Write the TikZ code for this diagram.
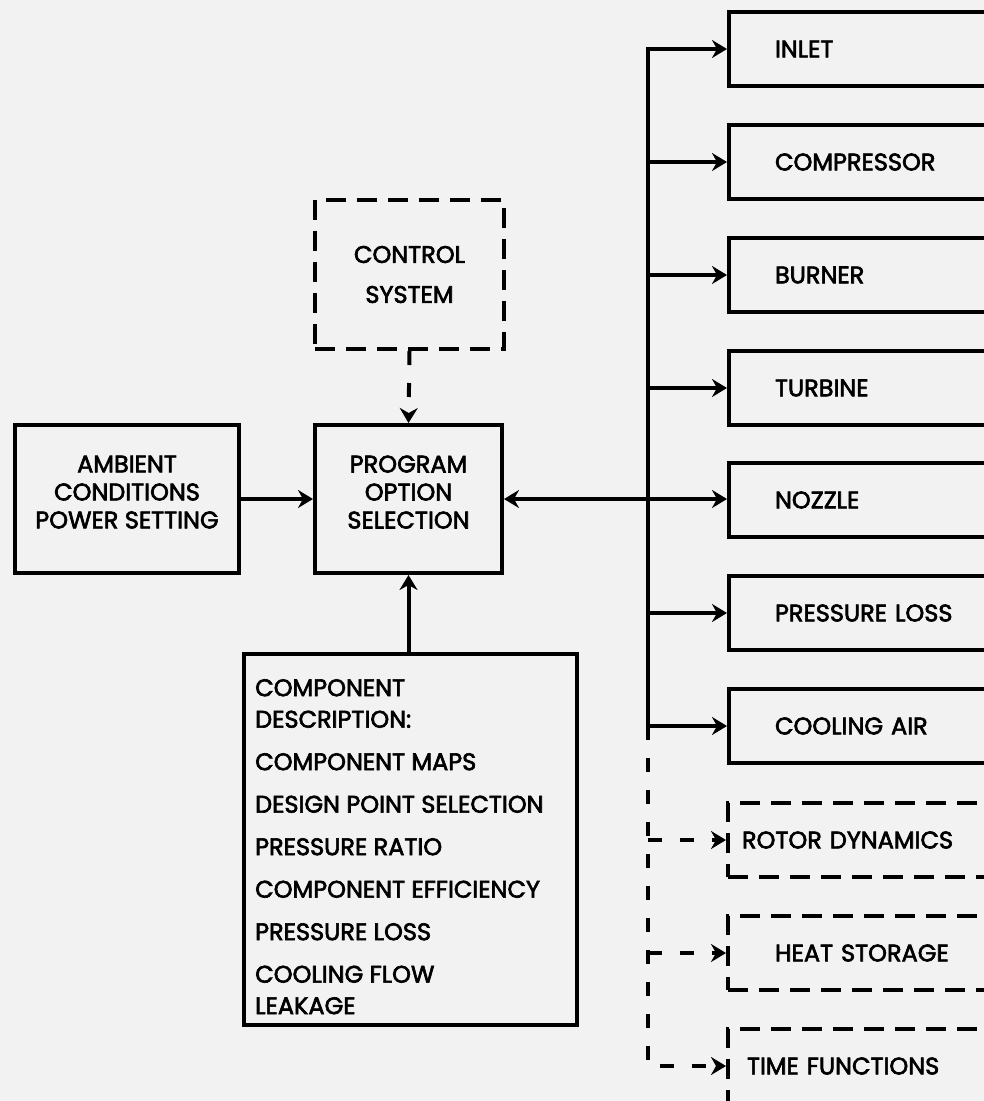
\documentclass[tikz,border=0pt]{standalone}
\usepackage{fontspec}
\setmainfont{Poppins}[FakeBold=2.6]
\usetikzlibrary{arrows.meta}
\begin{document}
\begin{tikzpicture}[x=1pt,y=-1pt,
  lw/.style={line width=4pt},
  tip/.tip={Stealth[length=15pt,width=18pt,inset=5pt]},
  blk/.style={draw, lw, rectangle, inner sep=0pt, font=\fontsize{24}{28}\selectfont},
  dblk/.style={blk, dash pattern=on 20pt off 11pt},
  rbox/.style={blk, anchor=north west, minimum height=74pt, align=left, inner xsep=46pt, text width=228pt},
  drbox/.style={rbox, dash pattern=on 20pt off 11pt},
  arr/.style={lw, -tip},
  darr/.style={arr, dash pattern=on 14pt off 18pt},
  barr/.style={lw, tip-tip}
]
\useasboundingbox (0,0) rectangle (984,1101);
\clip (0,0) rectangle (984,1101);
\fill[black!5] (0,0) rectangle (984,1101);

% right column
\node[rbox] (inlet) at (727,10) {INLET};
\node[rbox] (comp) at (727,123) {COMPRESSOR};
\node[rbox] (burner) at (727,236) {BURNER};
\node[rbox] (turb) at (727,349) {TURBINE};
\node[rbox] (nozzle) at (727,461) {NOZZLE};
\node[rbox] (ploss) at (727,574) {PRESSURE LOSS};
\node[rbox] (cool) at (727,687) {COOLING AIR};
\node[drbox, inner xsep=14pt, text width=292pt] (rotor) at (726,801) {ROTOR DYNAMICS};
\node[drbox, inner xsep=47pt, text width=226pt] (heat) at (726,914) {HEAT STORAGE};
\node[drbox, inner xsep=19pt, text width=282pt] (timef) at (726,1027) {TIME FUNCTIONS};

% left column
\node[dblk, anchor=north west, minimum width=189pt, minimum height=149pt, align=center,
      font=\fontsize{24}{40}\selectfont] (ctrl) at (313,198) {CONTROL\\SYSTEM};
\node[blk, anchor=north west, minimum width=187pt, minimum height=148pt, align=center] (prog) at (313,423)
  {PROGRAM\\OPTION\\SELECTION\rule[-14pt]{0pt}{0pt}};
\node[blk, anchor=north west, minimum width=224pt, minimum height=148pt, align=center] (amb) at (13,423)
  {AMBIENT\\CONDITIONS\\POWER SETTING\rule[-14pt]{0pt}{0pt}};
\node[blk, anchor=north west, minimum width=333pt, minimum height=371pt] (desc) at (242,652) {};
\node[anchor=north west, align=left, inner sep=0pt, font=\fontsize{24}{31.5}\selectfont] (desctxt) at (255,679)
  {COMPONENT\\DESCRIPTION:\\[11pt]COMPONENT MAPS\\[11pt]DESIGN POINT SELECTION\\[11pt]PRESSURE RATIO\\[11pt]COMPONENT EFFICIENCY\\[11pt]PRESSURE LOSS\\[11pt]COOLING FLOW\\LEAKAGE};

\coordinate (bus) at (648,0);

% connectors
\draw[arr] (amb.east) -- (prog.west);
\draw[darr] (ctrl.south) -- (prog.north);
\draw[arr] (desc.north -| prog.south) -- (prog.south);
\draw[barr] (prog.east) -- (prog.east -| nozzle.west);

\draw[arr] (bus |- cool.west) -- (bus |- inlet.west) -- (inlet.west);
\draw[arr] (bus |- comp.west) -- (comp.west);
\draw[arr] (bus |- burner.west) -- (burner.west);
\draw[arr] (bus |- turb.west) -- (turb.west);
\draw[arr] (bus |- ploss.west) -- (ploss.west);
\draw[arr] (bus |- cool.west) -- (cool.west);
\draw[darr] (bus |- cool.west) -- (bus |- timef.west) -- (timef.west);
\draw[darr] (bus |- rotor.west) -- (rotor.west);
\draw[darr] (bus |- heat.west) -- (heat.west);
\end{tikzpicture}
\end{document}
